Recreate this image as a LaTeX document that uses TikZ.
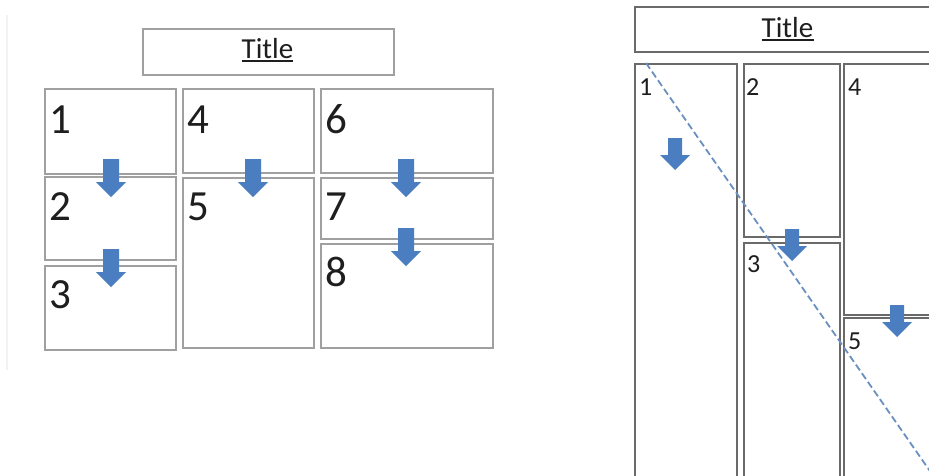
\documentclass[tikz,border=0pt]{standalone}
\usepackage{fontspec}
\setmainfont{Carlito}
\definecolor{arrowblue}{HTML}{4A7EC0}
\definecolor{dashblue}{HTML}{6A90C0}
\definecolor{boxgrayL}{HTML}{A0A0A0}
\definecolor{boxgrayR}{HTML}{6A6A6A}
\definecolor{txt}{HTML}{1E1E1E}
\begin{document}
\begin{tikzpicture}[x=1pt,y=-1pt,
  boxL/.style={draw=boxgrayL,line width=1.5pt,anchor=north west,inner sep=0pt},
  boxR/.style={draw=boxgrayR,line width=1.8pt,anchor=north west,inner sep=0pt},
  numL/.style={font=\fontsize{43}{43}\selectfont,text=txt,anchor=base west,inner sep=0pt},
  numR/.style={font=\fontsize{26}{26}\selectfont,text=txt,anchor=base west,inner sep=0pt},
  titletext/.style={font=\fontsize{29}{29}\selectfont,text=txt,anchor=base,inner sep=0pt},
  uline/.style={draw=txt,line width=1.6pt},
  bigarrow/.pic={\fill[arrowblue] (-8,0) -- (8,0) -- (8,23) -- (15,23) -- (0,38) -- (-15,23) -- (-8,23) -- cycle;},
  smallarrow/.pic={\fill[arrowblue] (-7,0) -- (7,0) -- (7,17) -- (15,17) -- (0,32) -- (-15,17) -- (-7,17) -- cycle;},
  diag/.style={draw=dashblue,line width=1.8pt,dash pattern=on 7pt off 3.5pt}]
\clip (0,0) rectangle (929,475);
\fill[white] (0,0) rectangle (929,475);
% faint left edge
\draw[gray!10,line width=2pt] (7,15) -- (7,370);
% ---- left layout ----
\node[boxL,minimum width=251pt,minimum height=46pt] (tl) at (142,28) {};
\node[titletext] (ttl) at (267.5,58) {Title};
\draw[uline] ([yshift=-3pt]ttl.base west) -- ([yshift=-3pt]ttl.base east);
\node[boxL,minimum width=131pt,minimum height=85pt] (b1) at (44,88) {};
\node[boxL,minimum width=131pt,minimum height=83pt] (b2) at (44,176) {};
\node[boxL,minimum width=131pt,minimum height=84pt] (b3) at (44,265) {};
\node[boxL,minimum width=131pt,minimum height=84pt] (b4) at (182,88) {};
\node[boxL,minimum width=131pt,minimum height=170pt] (b5) at (182,177) {};
\node[boxL,minimum width=172pt,minimum height=84pt] (b6) at (320,88) {};
\node[boxL,minimum width=172pt,minimum height=61pt] (b7) at (320,177) {};
\node[boxL,minimum width=172pt,minimum height=104pt] (b8) at (320,243) {};
\node[numL] (n1) at (49,133) {1};
\node[numL] (n2) at (49,220) {2};
\node[numL] (n3) at (49,308) {3};
\node[numL] (n4) at (187,133) {4};
\node[numL] (n5) at (187,220) {5};
\node[numL] (n6) at (325,133) {6};
\node[numL] (n7) at (325,220) {7};
\node[numL] (n8) at (325,286) {8};
\pic at (111,159) {bigarrow};
\pic at (111,249) {bigarrow};
\pic at (253,159) {bigarrow};
\pic at (406,159) {bigarrow};
\pic at (406,228) {bigarrow};
% ---- right layout ----
\node[boxR,minimum width=320pt,minimum height=45pt] (tr) at (634,6) {};
\node[titletext] (ttr) at (787.5,37) {Title};
\draw[uline] ([yshift=-3pt]ttr.base west) -- ([yshift=-3pt]ttr.base east);
\node[boxR,minimum width=102pt,minimum height=430pt] (r1) at (634,63) {};
\node[boxR,minimum width=96pt,minimum height=173pt] (r2) at (743,63) {};
\node[boxR,minimum width=96pt,minimum height=240pt] (r3) at (743,242) {};
\node[boxR,minimum width=110pt,minimum height=251pt] (r4) at (843,63) {};
\node[boxR,minimum width=110pt,minimum height=180pt] (r5) at (843,317) {};
\node[numR] (m1) at (639,95) {1};
\node[numR] (m2) at (746,95) {2};
\node[numR] (m4) at (848,95) {4};
\node[numR] (m3) at (747,272) {3};
\node[numR] (m5) at (848,349) {5};
\pic at (675,138) {smallarrow};
\pic at (792,229) {smallarrow};
\pic at (897,305) {smallarrow};
\coordinate (d0) at (646,63);
\coordinate (d1) at (932,474);
\draw[diag] (d0) -- (d1);
\end{tikzpicture}
\end{document}
